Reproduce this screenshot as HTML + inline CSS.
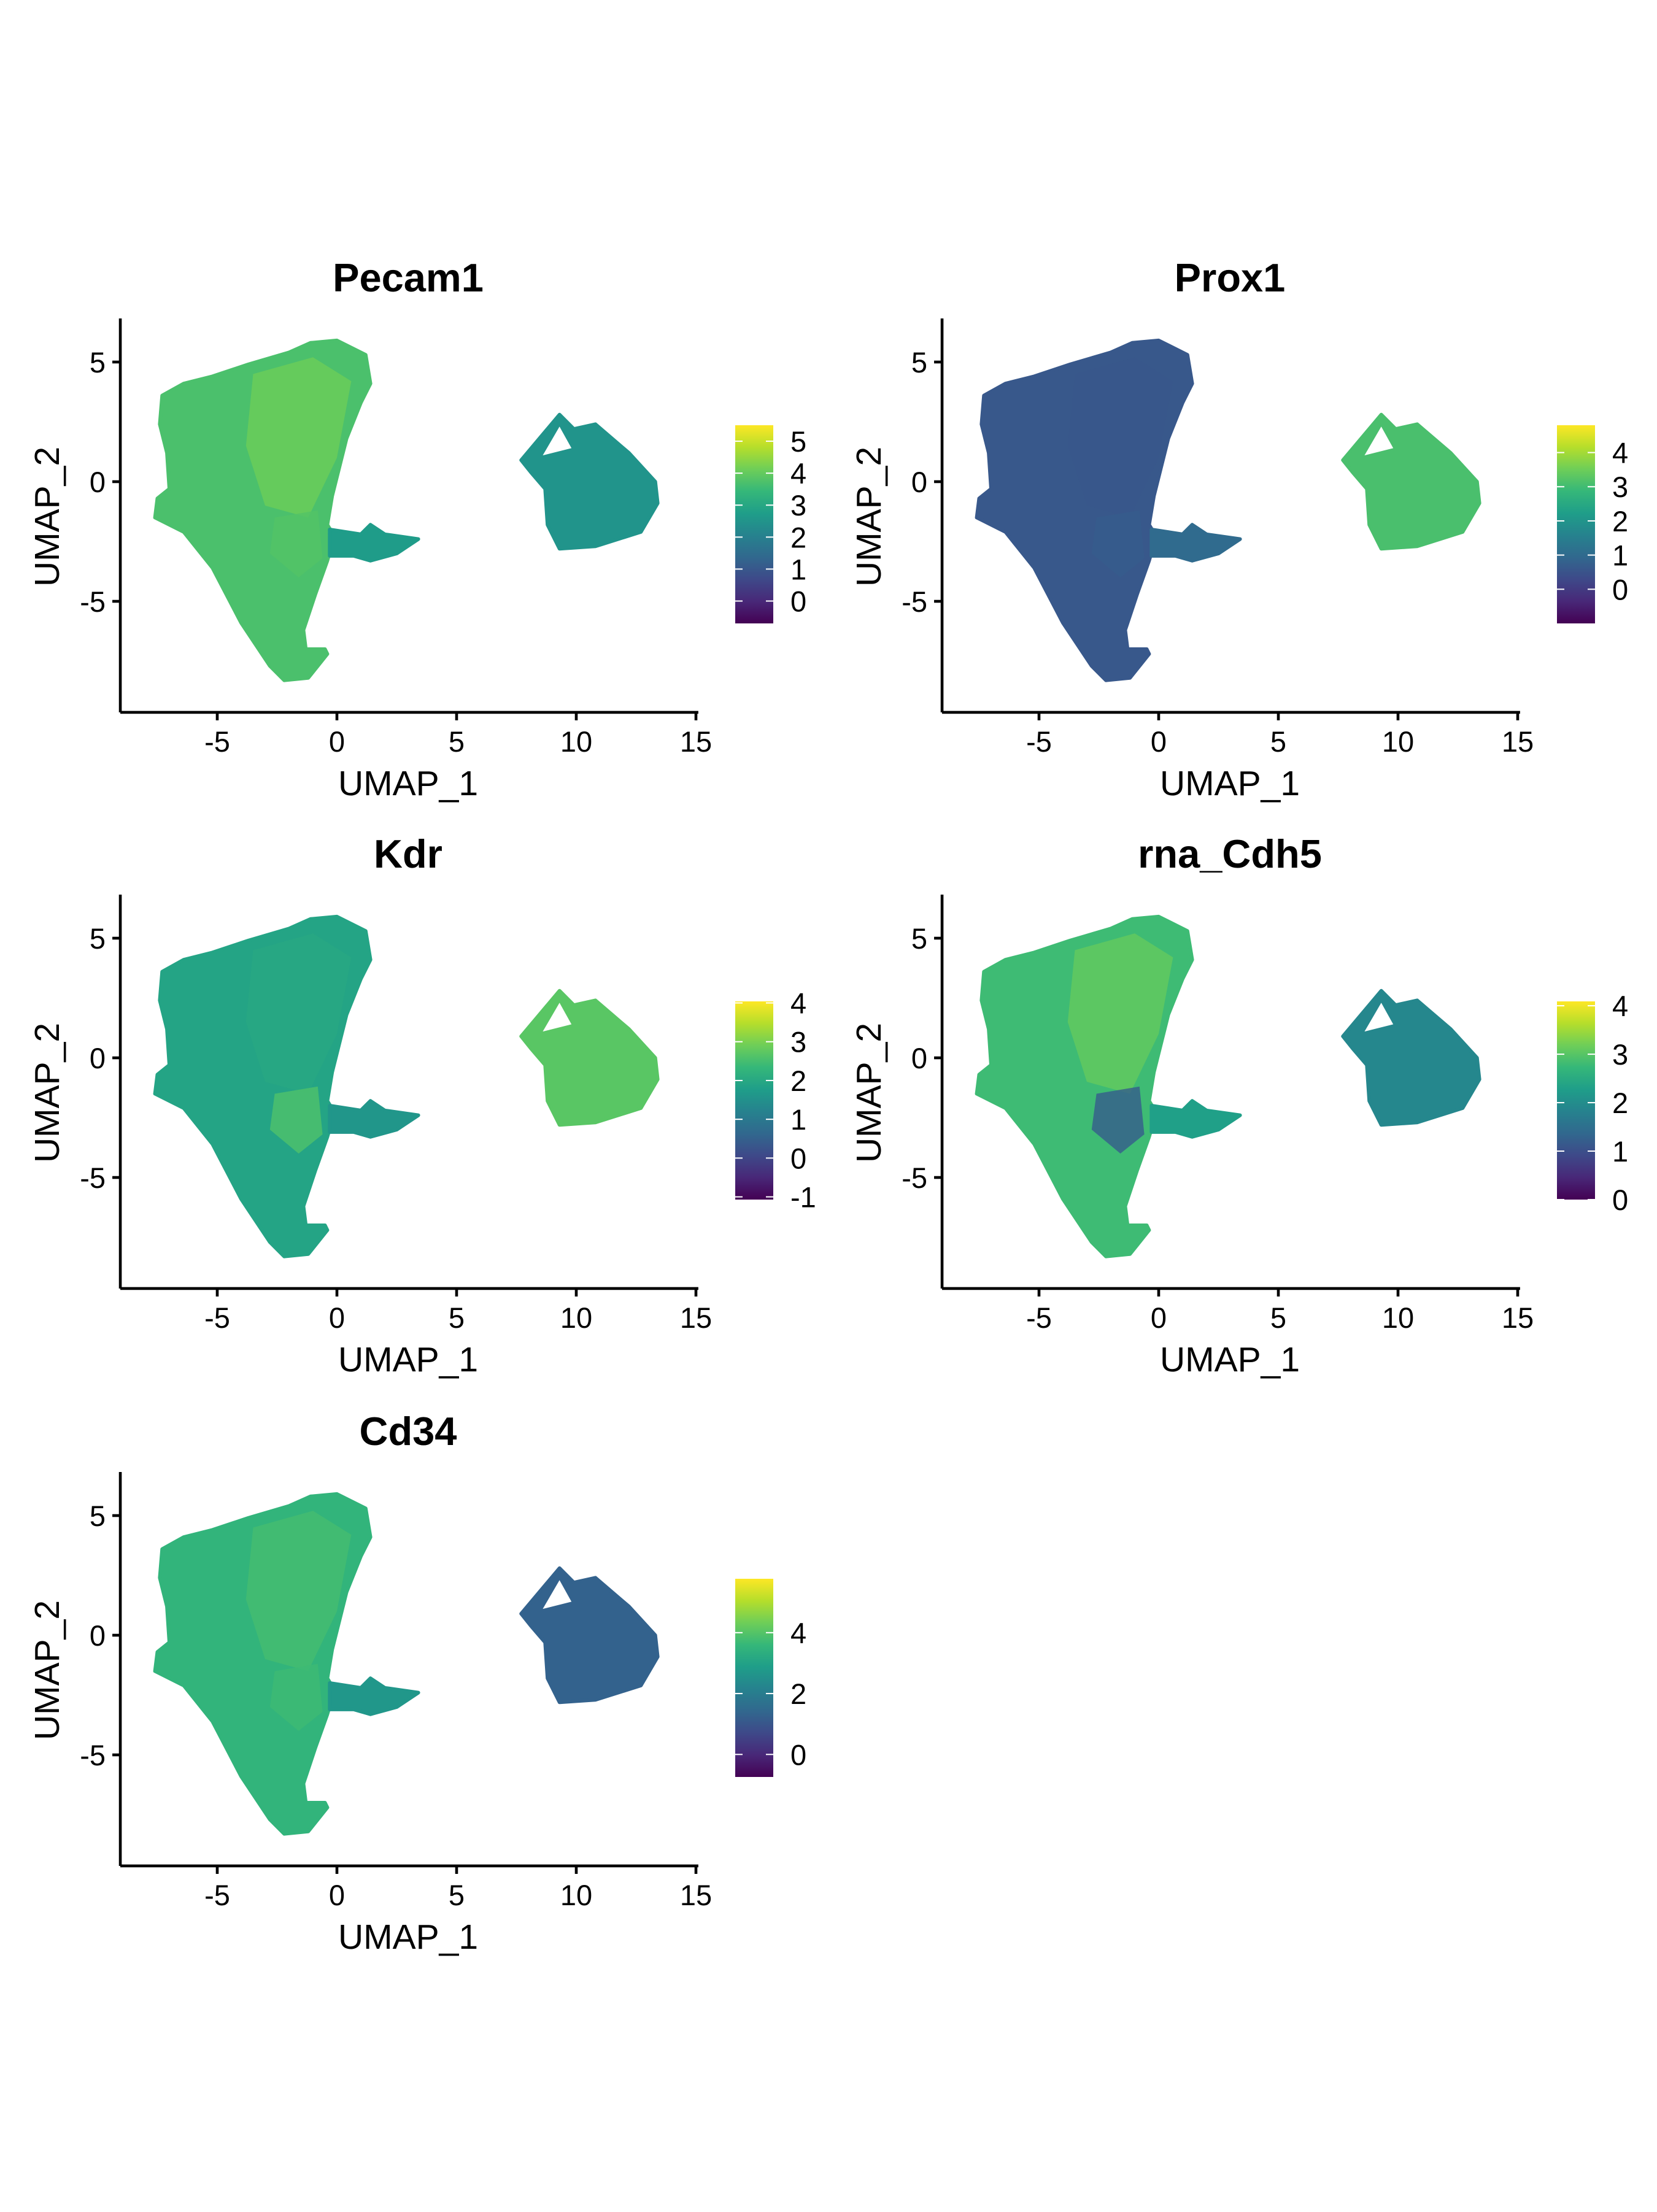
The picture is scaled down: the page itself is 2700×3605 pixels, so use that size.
<!DOCTYPE html>
<html><head><meta charset="utf-8"><style>
html,body{margin:0;padding:0;background:#fff}
svg text{font-family:"Liberation Sans",sans-serif}
</style></head><body>
<svg id="fig" xmlns="http://www.w3.org/2000/svg" width="2700" height="3600" viewBox="0 0 2700 3600"></svg>
<script>
// ---- data (UMAP coordinates) ----
const mainOutline = [[0,5.9],[1.2,5.3],[1.4,4.1],[1.0,3.3],[0.4,1.8],[0.1,0.6],[-0.2,-0.6],[-0.4,-1.8],[-0.1,-2.3],[-0.4,-3.3],[-0.9,-4.7],[-1.4,-6.2],[-1.3,-7.0],[-0.5,-7.0],[-0.4,-7.2],[-1.2,-8.2],[-2.2,-8.3],[-2.8,-7.7],[-4.0,-5.9],[-5.2,-3.6],[-6.4,-2.1],[-7.6,-1.5],[-7.5,-0.7],[-7.0,-0.3],[-7.1,1.2],[-7.4,2.4],[-7.3,3.6],[-6.4,4.1],[-5.2,4.4],[-3.7,4.9],[-2.0,5.4],[-1.1,5.8]];
const branchOutline = [[-0.3,-2.0],[1.0,-2.2],[1.4,-1.8],[2.0,-2.2],[3.4,-2.4],[2.5,-3.0],[1.4,-3.3],[0.7,-3.1],[-0.3,-3.1]];
const rightOutline = [[7.7,0.9],[9.3,2.8],[9.9,2.2],[10.8,2.4],[12.2,1.2],[13.3,0],[13.4,-0.9],[12.7,-2.1],[10.8,-2.7],[9.3,-2.8],[8.8,-1.8],[8.7,-0.3],[8.1,0.4]];
const rightHole = [[9.3,2.3],[8.6,1.1],[9.8,1.4]];
const corePoly = [[-3.5,4.5],[-1.0,5.2],[0.6,4.2],[0.0,1.0],[-1.2,-1.5],[-3.0,-1.0],[-3.8,1.5]];
const patchPoly = [[-2.6,-1.5],[-0.8,-1.2],[-0.6,-3.2],[-1.6,-4.0],[-2.8,-3.0]];
const genes = ["Pecam1","Prox1","Kdr","rna_Cdh5","Cd34"];
const valMain = [3.7, 0.6, 1.9, 2.8, 3.5];
const valCore = [4.1, 0.6, 2.0, 3.1, 3.8];
const valPatch = [3.8, 0.7, 2.6, 1.2, 3.7];
const valBranch = [2.7, 1.0, 1.6, 2.3, 2.7];
const valRight = [2.5, 3.1, 2.7, 1.9, 1.3];
const scaleMin = [-0.7, -1.0, -1.07, 0.0, -0.74];
const scaleMax = [5.5, 4.8, 4.04, 4.09, 5.77];
const cbTicks = [[0,1,2,3,4,5],[0,1,2,3,4],[-1,0,1,2,3,4],[0,1,2,3,4],[0,2,4]];
const xTicks = [-5,0,5,10,15];
const yTicks = [5,0,-5];

// ---- layout ----
const colX0 = [549, 1888], rowY0 = [785, 1724, 2665], U = 39.0;
const NS = "http://www.w3.org/2000/svg";
const svg = document.getElementById('fig');
function mk(tag, attrs, parent){const e=document.createElementNS(NS,tag);for(const k in attrs)e.setAttribute(k,attrs[k]);(parent||svg).appendChild(e);return e;}
const vir = ["#440154","#482878","#3e4989","#31688e","#26828e","#1f9e89","#35b779","#6ece58","#b5de2b","#fde725"];
function hex(c){return [1,3,5].map(i=>parseInt(c.substr(i,2),16));}
function viridis(t){t=Math.max(0,Math.min(1,t));const p=t*(vir.length-1),i=Math.min(vir.length-2,Math.floor(p)),f=p-i;const a=hex(vir[i]),b=hex(vir[i+1]);return "rgb("+a.map((v,k)=>Math.round(v+(b[k]-v)*f)).join(",")+")";}

genes.forEach((g,gi)=>{
  const col=gi%2,row=Math.floor(gi/2);
  const x0=colX0[col],y0=rowY0[row];
  const sx=v=>x0+v*U, sy=v=>y0-v*U;
  const col_=v=>viridis((v-scaleMin[gi])/(scaleMax[gi]-scaleMin[gi]));
  const grp=mk('g',{});
  
  
  const pts=a=>a.map(p=>sx(p[0]).toFixed(1)+","+sy(p[1]).toFixed(1)).join(" ");
  function poly(a,v,name,extra){const e=mk('polygon',Object.assign({points:pts(a),fill:col_(v),stroke:col_(v),'stroke-width':6,'stroke-linejoin':'round'},extra||{}),grp);
    
    return e;}
  poly(mainOutline,valMain[gi],'main-cluster');
  poly(corePoly,valCore[gi],'core-region',{'stroke-width':0,opacity:0.8});
  poly(patchPoly,valPatch[gi],'lower-patch',{'stroke-width':0,opacity:0.8});
  poly(branchOutline,valBranch[gi],'branch-cluster');
  poly(rightOutline,valRight[gi],'right-cluster');
  const h=mk('polygon',{points:pts(rightHole),fill:'#fff'},grp);
  
  
  // axes
  const xl=mk('line',{x1:sx(-9.05),x2:sx(15.1),y1:sy(-9.64),y2:sy(-9.64),stroke:'#000','stroke-width':4.6},grp);
  
  
  const yl=mk('line',{x1:sx(-9.05),x2:sx(-9.05),y1:sy(6.82),y2:sy(-9.64),stroke:'#000','stroke-width':4.6},grp);
  
  
  xTicks.forEach(t=>{
    mk('line',{x1:sx(t),x2:sx(t),y1:sy(-9.64),y2:sy(-9.64)+13,stroke:'#000','stroke-width':4.6},grp);
    const tx=mk('text',{x:sx(t),y:sy(-9.64)+64,'font-size':47,'text-anchor':'middle'},grp);tx.textContent=t;
    
    
  });
  yTicks.forEach(t=>{
    mk('line',{x1:sx(-9.05)-13,x2:sx(-9.05),y1:sy(t),y2:sy(t),stroke:'#000','stroke-width':4.6},grp);
    const tx=mk('text',{x:sx(-9.05)-24,y:sy(t)+17,'font-size':47,'text-anchor':'end'},grp);tx.textContent=t;
    
    
  });
  const xt=mk('text',{x:x0+116,y:y0+511,'font-size':57,'text-anchor':'middle'},grp);xt.textContent='UMAP_1';
  
  
  const yt=mk('text',{x:0,y:0,'font-size':57,'text-anchor':'middle',transform:`translate(${x0-453},${y0+57}) rotate(-90)`},grp);yt.textContent='UMAP_2';
  
  
  const tt=mk('text',{x:x0+116,y:y0-310,'font-size':65,'font-weight':'bold','text-anchor':'middle'},grp);tt.textContent=g;
  
  
  // colorbar
  const bx=x0+649,bw=62,bt=y0-92,bh=323;
  const gid='grad'+gi;
  const defs=mk('defs',{},grp);
  const lg=mk('linearGradient',{id:gid,x1:0,y1:1,x2:0,y2:0},defs);
  vir.forEach((c,i)=>mk('stop',{offset:(i/(vir.length-1)),'stop-color':c},lg));
  const cb=mk('rect',{x:bx,y:bt,width:bw,height:bh,fill:`url(#${gid})`},grp);
  
  
  const vy=v=>bt+(scaleMax[gi]-v)/(scaleMax[gi]-scaleMin[gi])*bh;
  cbTicks[gi].forEach(v=>{
    mk('line',{x1:bx,x2:bx+12,y1:vy(v),y2:vy(v),stroke:'#fff','stroke-width':2},grp);
    mk('line',{x1:bx+bw-12,x2:bx+bw,y1:vy(v),y2:vy(v),stroke:'#fff','stroke-width':2},grp);
    const tx=mk('text',{x:bx+bw+28,y:vy(v)+17,'font-size':47},grp);tx.textContent=v;
    
    
  });
});
</script>
</body></html>
